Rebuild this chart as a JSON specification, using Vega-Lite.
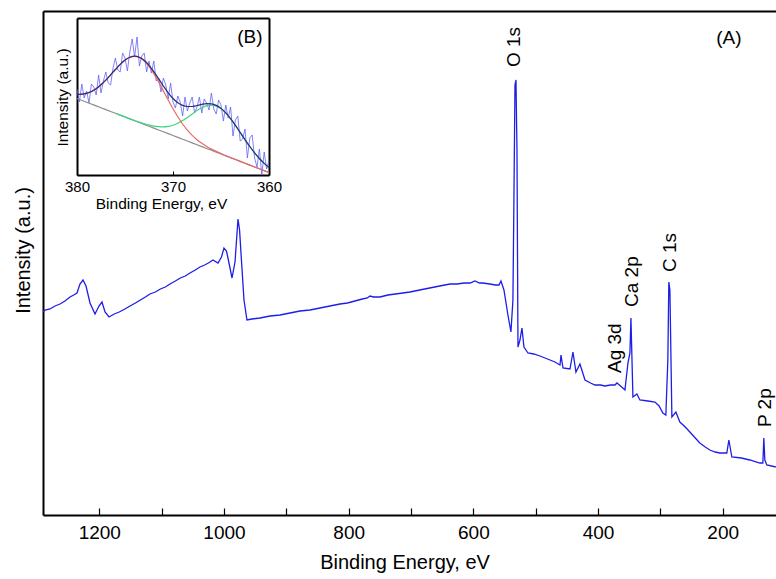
{
  "$schema": "https://vega.github.io/schema/vega-lite/v6.json",
  "autosize": {"type": "none"},
  "padding": {"left": 43, "top": 11, "right": 0, "bottom": 64},
  "width": 733,
  "height": 504,
  "background": "white",
  "config": {
    "view": {"stroke": null},
    "axis": {"grid": false, "labelFont": "Liberation Sans", "titleFont": "Liberation Sans", "labelColor": "#000", "titleColor": "#000", "domainColor": "#000", "tickColor": "#000", "titleFontWeight": "normal"},
    "text": {"font": "Liberation Sans"}
  },
  "datasets": {
    "main": [
      {"E":1290.3,"I":203},{"E":1287.1,"I":205},{"E":1279,"I":206},{"E":1271.1,"I":209},{"E":1263,"I":211},{"E":1255,"I":214},{"E":1247,"I":218},{"E":1241,"I":220},{"E":1235.8,"I":222},{"E":1231,"I":231},{"E":1226.1,"I":235},{"E":1221.3,"I":229},{"E":1214.9,"I":212},{"E":1206.9,"I":201},{"E":1200.5,"I":209},{"E":1195.7,"I":213},{"E":1190.8,"I":203},{"E":1184.4,"I":198},{"E":1176,"I":201},{"E":1168,"I":203},{"E":1159,"I":206},{"E":1150.7,"I":209},{"E":1142,"I":212},{"E":1134,"I":215},{"E":1126,"I":218},{"E":1118.7,"I":221},{"E":1110,"I":223},{"E":1102,"I":226},{"E":1094,"I":228},{"E":1086.6,"I":231},{"E":1078,"I":234},{"E":1070,"I":237},{"E":1062,"I":239},{"E":1054.5,"I":242},{"E":1046,"I":245},{"E":1038.5,"I":248},{"E":1031,"I":250},{"E":1025,"I":252},{"E":1017.6,"I":255},{"E":1009.6,"I":252},{"E":1004,"I":258},{"E":1000,"I":267},{"E":996,"I":264},{"E":993.6,"I":257},{"E":987.1,"I":237},{"E":982.3,"I":253},{"E":977.5,"I":296},{"E":975,"I":285},{"E":972.7,"I":262},{"E":967.9,"I":215},{"E":963.1,"I":195},{"E":955.1,"I":196},{"E":942.2,"I":197},{"E":926,"I":199},{"E":910,"I":200},{"E":894,"I":202},{"E":878.1,"I":204},{"E":862,"I":205},{"E":846,"I":207},{"E":830,"I":209},{"E":813.9,"I":211},{"E":802,"I":212},{"E":790,"I":214},{"E":778,"I":216},{"E":770,"I":217},{"E":765.8,"I":219},{"E":760,"I":218},{"E":749.8,"I":218},{"E":737,"I":220},{"E":725,"I":221},{"E":713,"I":222},{"E":701.6,"I":223},{"E":686,"I":225},{"E":670,"I":227},{"E":654,"I":229},{"E":637.5,"I":231},{"E":626,"I":231},{"E":615,"I":232},{"E":605,"I":232},{"E":597.4,"I":234},{"E":590,"I":232},{"E":585,"I":232},{"E":573.3,"I":231},{"E":565,"I":230},{"E":558.9,"I":230},{"E":555.7,"I":234},{"E":550.9,"I":225},{"E":544.5,"I":200},{"E":539.7,"I":183},{"E":536.5,"I":215},{"E":534.9,"I":315},{"E":533.2,"I":430},{"E":531.6,"I":435},{"E":530,"I":365},{"E":528.4,"I":168},{"E":525.2,"I":175},{"E":522,"I":187},{"E":518.8,"I":168},{"E":512.4,"I":162},{"E":503,"I":161},{"E":493.1,"I":159},{"E":481,"I":156},{"E":469.1,"I":153},{"E":461,"I":150},{"E":459.4,"I":160},{"E":456.2,"I":147},{"E":445,"I":146},{"E":440.2,"I":163},{"E":435.4,"I":143},{"E":429,"I":151},{"E":420.9,"I":135},{"E":412,"I":132},{"E":404.9,"I":130},{"E":396,"I":130},{"E":388.9,"I":129},{"E":380,"I":130},{"E":372.8,"I":130},{"E":369.6,"I":132},{"E":362,"I":128},{"E":356.8,"I":125},{"E":352,"I":152},{"E":348.8,"I":162},{"E":347.2,"I":197},{"E":344,"I":118},{"E":337.6,"I":121},{"E":332.8,"I":115},{"E":320,"I":114},{"E":308.7,"I":113},{"E":302,"I":109},{"E":296,"I":102},{"E":291.2,"I":100},{"E":288,"I":155},{"E":286.4,"I":233},{"E":284.7,"I":225},{"E":281.5,"I":98},{"E":275.1,"I":103},{"E":268.7,"I":93},{"E":260,"I":88},{"E":252.7,"I":83},{"E":244,"I":77},{"E":236.7,"I":72},{"E":228,"I":68},{"E":220.6,"I":65},{"E":212,"I":63},{"E":204.6,"I":62},{"E":193.4,"I":62},{"E":190.1,"I":75},{"E":185.3,"I":58},{"E":170,"I":57},{"E":156.5,"I":55},{"E":140.4,"I":52},{"E":135.6,"I":52},{"E":134,"I":77},{"E":132.4,"I":55},{"E":129.2,"I":50},{"E":114.8,"I":48}
    ],
    "peaks": [
      {"t":"O 1s","E":534,"I":448},{"t":"C 1s","E":284.7,"I":243},{"t":"Ca 2p","E":346,"I":208},{"t":"Ag 3d","E":372.8,"I":142},{"t":"P 2p","E":132.2,"I":88}
    ],
    "tagA": [{"t":"(A)","E":190,"I":477}],
    "tagB": [{"t":"(B)","E":362,"I":138}],
    "inset": [
      {"E":380,"I":86},{"E":379.75,"I":73},{"E":379.5,"I":91},{"E":379.25,"I":77},{"E":379,"I":84},{"E":378.75,"I":72},{"E":378.5,"I":91},{"E":378.25,"I":88},{"E":378,"I":80},{"E":377.75,"I":100},{"E":377.5,"I":82},{"E":377.25,"I":94},{"E":377,"I":103},{"E":376.75,"I":92},{"E":376.5,"I":90},{"E":376.25,"I":107},{"E":376,"I":117},{"E":375.75,"I":105},{"E":375.5,"I":103},{"E":375.25,"I":122},{"E":375,"I":117},{"E":374.75,"I":104},{"E":374.5,"I":123},{"E":374.25,"I":136},{"E":374,"I":118},{"E":373.75,"I":138},{"E":373.5,"I":109},{"E":373.25,"I":119},{"E":373,"I":122},{"E":372.75,"I":103},{"E":372.5,"I":114},{"E":372.25,"I":102},{"E":372,"I":114},{"E":371.75,"I":94},{"E":371.5,"I":97},{"E":371.25,"I":83},{"E":371,"I":97},{"E":370.75,"I":90},{"E":370.5,"I":76},{"E":370.25,"I":92},{"E":370,"I":73},{"E":369.75,"I":67},{"E":369.5,"I":79},{"E":369.25,"I":73},{"E":369,"I":59},{"E":368.75,"I":78},{"E":368.5,"I":64},{"E":368.25,"I":72},{"E":368,"I":78},{"E":367.75,"I":62},{"E":367.5,"I":68},{"E":367.25,"I":78},{"E":367,"I":62},{"E":366.75,"I":76},{"E":366.5,"I":72},{"E":366.25,"I":65},{"E":366,"I":82},{"E":365.75,"I":66},{"E":365.5,"I":61},{"E":365.25,"I":75},{"E":365,"I":70},{"E":364.75,"I":54},{"E":364.5,"I":70},{"E":364.25,"I":57},{"E":364,"I":68},{"E":363.75,"I":39},{"E":363.5,"I":55},{"E":363.25,"I":59},{"E":363,"I":34},{"E":362.75,"I":36},{"E":362.5,"I":46},{"E":362.25,"I":17},{"E":362,"I":37},{"E":361.75,"I":40},{"E":361.5,"I":17},{"E":361.25,"I":8},{"E":361,"I":26},{"E":360.75,"I":0},{"E":360.5,"I":23},{"E":360.25,"I":6},{"E":360,"I":14}
    ],
    "fit": [
      {"E":380,"bg":76.5,"red":80.4,"green":null,"env":80.4},
      {"E":379,"bg":72.8,"red":81.6,"green":null,"env":81.6},
      {"E":378,"bg":69.1,"red":86.3,"green":null,"env":86.3},
      {"E":377.5,"bg":67.25,"red":90.2,"green":null,"env":90.2},
      {"E":377,"bg":65.4,"red":94.8,"green":null,"env":94.8},
      {"E":376.5,"bg":63.55,"red":100.1,"green":null,"env":100.1},
      {"E":376,"bg":61.7,"red":105.5,"green":61.7,"env":105.5},
      {"E":375.5,"bg":59.85,"red":110.6,"green":59.9,"env":110.6},
      {"E":375,"bg":58.0,"red":114.8,"green":58.1,"env":114.9},
      {"E":374.5,"bg":56.15,"red":117.6,"green":56.3,"env":117.7},
      {"E":374,"bg":54.3,"red":118.6,"green":54.5,"env":118.8},
      {"E":373.5,"bg":52.45,"red":117.4,"green":52.9,"env":117.8},
      {"E":373,"bg":50.6,"red":114.0,"green":51.3,"env":114.7},
      {"E":372.5,"bg":48.75,"red":108.5,"green":50.0,"env":109.7},
      {"E":372,"bg":46.9,"red":101.4,"green":48.9,"env":103.4},
      {"E":371.5,"bg":45.05,"red":93.1,"green":48.3,"env":96.3},
      {"E":371,"bg":43.2,"red":84.1,"green":48.1,"env":89.0},
      {"E":370.5,"bg":41.35,"red":75.0,"green":48.6,"env":82.2},
      {"E":370,"bg":39.5,"red":66.2,"green":49.8,"env":76.5},
      {"E":369.5,"bg":37.65,"red":58.2,"green":51.8,"env":72.3},
      {"E":369,"bg":35.8,"red":51.0,"green":54.4,"env":69.6},
      {"E":368.5,"bg":33.95,"red":44.9,"green":57.6,"env":68.5},
      {"E":368,"bg":32.1,"red":39.6,"green":61.0,"env":68.5},
      {"E":367.5,"bg":30.25,"red":35.3,"green":64.5,"env":69.5},
      {"E":367,"bg":28.4,"red":31.7,"green":67.3,"env":70.6},
      {"E":366.5,"bg":26.55,"red":28.6,"green":69.3,"env":71.3},
      {"E":366,"bg":24.7,"red":25.9,"green":69.9,"env":71.1},
      {"E":365.5,"bg":22.85,"red":23.6,"green":68.9,"env":69.6},
      {"E":365,"bg":21.0,"red":21.4,"green":66.2,"env":66.6},
      {"E":364.5,"bg":19.15,"red":19.4,"green":61.9,"env":62.1},
      {"E":364,"bg":17.3,"red":17.4,"green":56.2,"env":56.3},
      {"E":363.5,"bg":15.45,"red":15.5,"green":49.7,"env":49.7},
      {"E":363,"bg":13.6,"red":13.6,"green":42.5,"env":42.5},
      {"E":362.5,"bg":11.75,"red":11.75,"green":35.4,"env":35.4},
      {"E":362,"bg":9.9,"red":9.9,"green":28.5,"env":28.5},
      {"E":361.5,"bg":8.05,"red":8.05,"green":22.2,"env":22.2},
      {"E":361,"bg":6.2,"red":6.2,"green":16.5,"env":16.5},
      {"E":360.5,"bg":4.35,"red":4.35,"green":11.6,"env":11.6},
      {"E":360,"bg":2.5,"red":2.5,"green":7.4,"env":7.4}
    ]
  },
  "resolve": {"scale": {"x": "independent", "y": "independent"}, "axis": {"x": "independent", "y": "independent"}},
  "layer": [
    {
      "data": {"name": "main"},
      "mark": {"type": "line", "color": "#1e1ee8", "strokeWidth": 1.3, "clip": true},
      "encoding": {
        "x": {"field": "E", "type": "quantitative", "scale": {"domain": [1290.3, 114.5], "nice": false, "zero": false},
          "axis": {"orient": "bottom", "values": [1200,1100,1000,900,800,700,600,500,400,300,200], "format": "d", "labelExpr": "datum.value % 200 === 0 ? datum.label : ''", "tickSize": -7, "tickWidth": 1.2, "labelFontSize": 19, "labelPadding": 15, "labelFlush": false, "labelOverlap": false, "domainWidth": 2, "title": "Binding Energy, eV", "titleFontSize": 20, "titleX": 361.5, "titleY": 47, "titleAlign": "center", "titleBaseline": "middle"}},
        "y": {"field": "I", "type": "quantitative", "scale": {"domain": [0, 504], "nice": false, "zero": false},
          "axis": {"orient": "left", "ticks": false, "labels": false, "domainWidth": 2, "title": "Intensity (a.u.)", "titleFontSize": 20, "titleX": -20, "titleY": 239, "titleAngle": 270, "titleAlign": "center", "titleBaseline": "middle"}}
      }
    },
    {
      "data": {"name": "peaks"},
      "mark": {"type": "text", "angle": 270, "align": "left", "baseline": "middle", "fontSize": 19, "color": "#000"},
      "encoding": {
        "x": {"field": "E", "type": "quantitative", "scale": {"domain": [1290.3, 114.5], "nice": false, "zero": false},
          "axis": {"orient": "top", "ticks": false, "labels": false, "domainWidth": 2, "title": null}},
        "y": {"field": "I", "type": "quantitative", "scale": {"domain": [0, 504], "nice": false, "zero": false}, "axis": null},
        "text": {"field": "t"}
      }
    },
    {
      "data": {"name": "tagA"},
      "mark": {"type": "text", "align": "center", "baseline": "middle", "fontSize": 19, "color": "#000"},
      "encoding": {
        "x": {"field": "E", "type": "quantitative", "scale": {"domain": [1290.3, 114.5], "nice": false, "zero": false}, "axis": null},
        "y": {"field": "I", "type": "quantitative", "scale": {"domain": [0, 504], "nice": false, "zero": false}, "axis": null},
        "text": {"field": "t"}
      }
    },
    {
      "data": {"name": "inset"},
      "mark": {"type": "line", "color": "#5a5af5", "strokeWidth": 1, "opacity": 0.75},
      "encoding": {
        "x": {"field": "E", "type": "quantitative", "scale": {"domain": [380, 360], "range": [34, 226], "nice": false, "zero": false},
          "axis": {"orient": "bottom", "offset": -340, "values": [380, 370, 360], "format": "d", "tickSize": -4, "labelFontSize": 15, "labelPadding": 8, "labelFlush": false, "domainWidth": 2, "title": "Binding Energy, eV", "titleFontSize": 15.5, "titleX": 118, "titleY": 28, "titleAlign": "center", "titleBaseline": "middle"}},
        "y": {"field": "I", "type": "quantitative", "scale": {"domain": [0, 157], "range": [164, 7], "nice": false, "zero": false},
          "axis": {"orient": "left", "offset": -34, "ticks": false, "labels": false, "domainWidth": 2, "title": "Intensity (a.u.)", "titleFontSize": 15.5, "titleX": -15, "titleY": 86, "titleAngle": 270, "titleAlign": "center", "titleBaseline": "middle"}}
      }
    },
    {
      "data": {"name": "fit"},
      "mark": {"type": "line", "color": "#8c8c8c", "strokeWidth": 1.2},
      "encoding": {
        "x": {"field": "E", "type": "quantitative", "scale": {"domain": [380, 360], "range": [34, 226], "nice": false, "zero": false},
          "axis": {"orient": "top", "offset": -7, "ticks": false, "labels": false, "domainWidth": 2, "title": null}},
        "y": {"field": "bg", "type": "quantitative", "scale": {"domain": [0, 157], "range": [164, 7], "nice": false, "zero": false},
          "axis": {"orient": "right", "offset": -507, "ticks": false, "labels": false, "domainWidth": 2, "title": null}}
      }
    },
    {
      "data": {"name": "fit"},
      "mark": {"type": "line", "color": "#3ed47e", "strokeWidth": 1.2, "interpolate": "monotone"},
      "encoding": {
        "x": {"field": "E", "type": "quantitative", "scale": {"domain": [380, 360], "range": [34, 226], "nice": false, "zero": false}, "axis": null},
        "y": {"field": "green", "type": "quantitative", "scale": {"domain": [0, 157], "range": [164, 7], "nice": false, "zero": false}, "axis": null}
      }
    },
    {
      "data": {"name": "fit"},
      "mark": {"type": "line", "color": "#e86a6a", "strokeWidth": 1.2, "interpolate": "monotone"},
      "encoding": {
        "x": {"field": "E", "type": "quantitative", "scale": {"domain": [380, 360], "range": [34, 226], "nice": false, "zero": false}, "axis": null},
        "y": {"field": "red", "type": "quantitative", "scale": {"domain": [0, 157], "range": [164, 7], "nice": false, "zero": false}, "axis": null}
      }
    },
    {
      "data": {"name": "fit"},
      "mark": {"type": "line", "color": "#2c2c78", "strokeWidth": 1.2, "interpolate": "monotone"},
      "encoding": {
        "x": {"field": "E", "type": "quantitative", "scale": {"domain": [380, 360], "range": [34, 226], "nice": false, "zero": false}, "axis": null},
        "y": {"field": "env", "type": "quantitative", "scale": {"domain": [0, 157], "range": [164, 7], "nice": false, "zero": false}, "axis": null}
      }
    },
    {
      "data": {"name": "tagB"},
      "mark": {"type": "text", "align": "center", "baseline": "middle", "fontSize": 19, "color": "#000"},
      "encoding": {
        "x": {"field": "E", "type": "quantitative", "scale": {"domain": [380, 360], "range": [34, 226], "nice": false, "zero": false}, "axis": null},
        "y": {"field": "I", "type": "quantitative", "scale": {"domain": [0, 157], "range": [164, 7], "nice": false, "zero": false}, "axis": null},
        "text": {"field": "t"}
      }
    }
  ]
}
